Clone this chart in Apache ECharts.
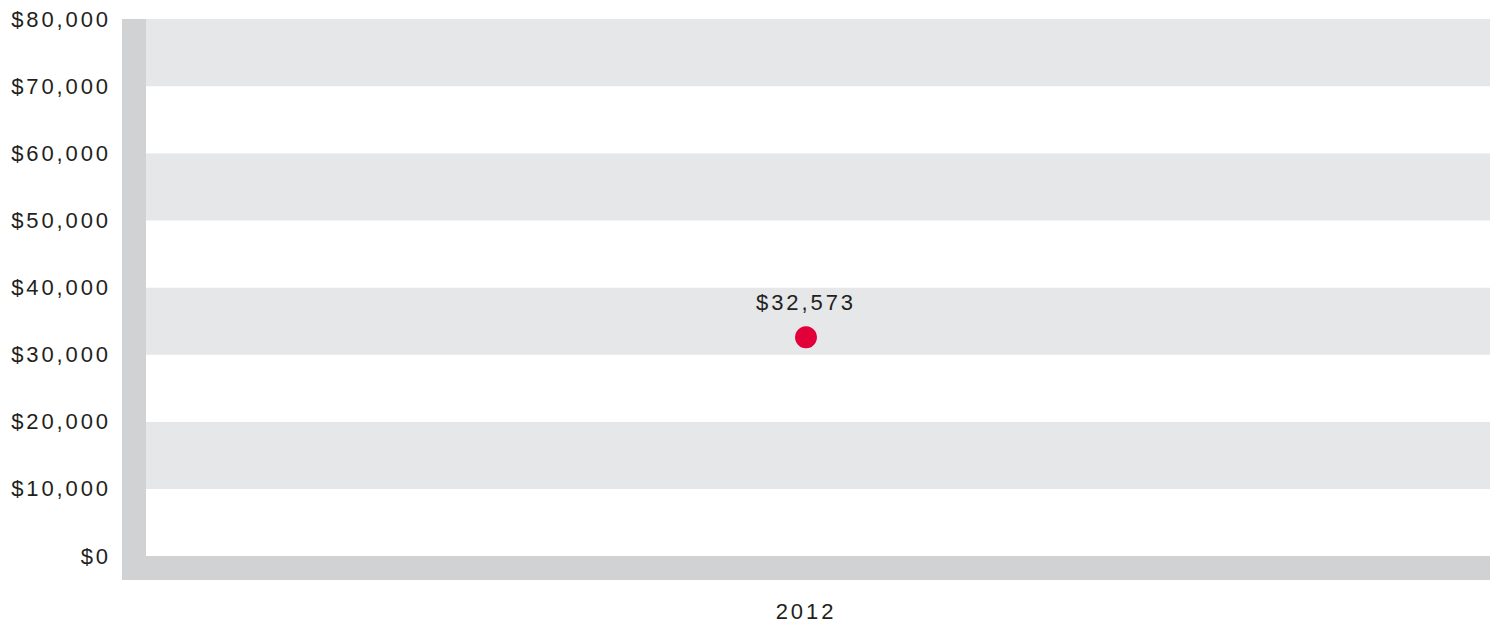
<!DOCTYPE html>
<html>
<head>
	<meta charset="utf-8" />
	<script src="https://cdn.jsdelivr.net/npm/echarts@6/dist/echarts.min.js"></script>
	<title>2012</title>
	<style>
		html, body { margin: 0; padding: 0; background: #fff; }
		#main { width: 1499px; height: 626px; }
		#main text { letter-spacing: 2.9px; }
	</style>
</head>
<body>
	<div id="main"></div>
	<script>
		var years = ['2012'];
		var values = [32573];
		var yMin = 0, yMax = 80000, yStep = 10000;

		function money(v) {
			return '$' + v.toLocaleString('en-US');
		}

		var myChart = echarts.init(document.getElementById('main'), null, { renderer: 'svg' });
		var font = { fontFamily: '"Liberation Sans", Arial, sans-serif', fontSize: 22, color: '#231f20' };

		var option = {
			animation: false,
			grid: { left: 122, right: 9, top: 19, bottom: 70 },
			xAxis: {
				type: 'category',
				data: years,
				offset: 12,
				boundaryGap: true,
				axisLine: { onZero: false, lineStyle: { color: '#d1d2d4', width: 24, cap: 'butt' } },
				axisTick: { show: false },
				axisLabel: Object.assign({ margin: 32 }, font),
				splitLine: { show: false }
			},
			yAxis: {
				type: 'value',
				min: yMin,
				max: yMax,
				interval: yStep,
				offset: -12,
				axisLine: { show: true, onZero: false, lineStyle: { color: '#d1d2d4', width: 24, cap: 'butt' } },
				axisTick: { show: false },
				axisLabel: Object.assign({ margin: 23, formatter: money }, font),
				splitLine: { show: false },
				splitArea: { show: true, areaStyle: { color: ['#ffffff', '#e6e7e9'] } }
			},
			series: [
				{
					type: 'scatter',
					data: values,
					symbol: 'circle',
					symbolSize: 22,
					itemStyle: { color: '#e2003a', opacity: 1 },
					label: Object.assign({
						show: true,
						position: 'top',
						distance: 13,
						formatter: function (p) { return money(p.value); }
					}, font)
				}
			]
		};
		myChart.setOption(option);
	</script>
</body>
</html>
